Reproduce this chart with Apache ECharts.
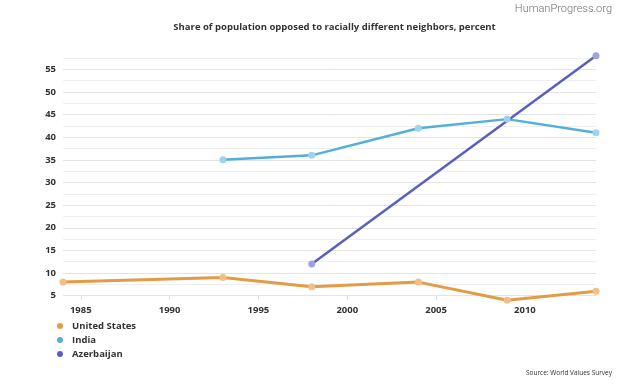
<!DOCTYPE html>
<html>
<head>
<meta charset="utf-8">
<script src="https://cdn.jsdelivr.net/npm/echarts@6/dist/echarts.min.js"></script>
<style>
html,body{margin:0;padding:0;background:#fff;}
#c{width:624px;height:386px;}
</style>
</head>
<body>
<div id="c"></div>
<script>
// Data
var seriesNames = ['United States', 'India', 'Azerbaijan'];
var usYears = [1984, 1993, 1998, 2004, 2009, 2014];
var usValues = [8, 9, 7, 8, 4, 6];
var indiaYears = [1993, 1998, 2004, 2009, 2014];
var indiaValues = [35, 36, 42, 44, 41];
var azYears = [1998, 2014];
var azValues = [12, 58];
var xTickLabels = [1985, 1990, 1995, 2000, 2005, 2010];
var yTickLabels = [5, 10, 15, 20, 25, 30, 35, 40, 45, 50, 55];

function zip(xs, ys) { return xs.map(function (x, i) { return [x, ys[i]]; }); }

var lineColors = ['#e39b45', '#52afd8', '#5a5fbf'];
var dotColors = ['#f0c084', '#9fd3ec', '#9ea2e0'];
var widths = [3, 2.5, 2.5];
var dataSets = [zip(usYears, usValues), zip(indiaYears, indiaValues), zip(azYears, azValues)];

var FONT = '"Open Sans", "DejaVu Sans", sans-serif';
var chart = echarts.init(document.getElementById('c'), null, {renderer: 'canvas'});
chart.setOption({
  animation: false,
  backgroundColor: '#ffffff',
  color: lineColors,
  title: [{
    text: 'Share of population opposed to racially different neighbors, percent',
    left: 329.5, top: 17, textAlign: 'center',
    textStyle: {fontFamily: FONT, fontSize: 9.5, fontWeight: 'bold', color: '#333333'}
  }],
  graphic: [
    {type: 'text', right: 12, top: 4, style: {text: 'HumanProgress.org', font: '300 11px Roboto, sans-serif', fill: '#6f6f6f'}},
    {type: 'text', right: 12, top: 370, style: {text: 'Source: World Values Survey', font: '6.5px "Open Sans", sans-serif', fill: '#333333'}}
  ],
  legend: {
    orient: 'vertical', left: 52, top: 315,
    icon: 'circle', itemWidth: 14, itemHeight: 6, itemGap: 2,
    data: seriesNames.map(function (n, i) { return {name: n, itemStyle: {color: lineColors[i]}}; }),
    textStyle: {fontFamily: FONT, fontSize: 9.5, fontWeight: 'bold', color: '#333333', lineHeight: 12, padding: [0,0,0,0]}
  },
  grid: {left: 63, right: 28, top: 58, bottom: 90.3, containLabel: false},
  xAxis: {
    type: 'value', min: 1984, max: 2014,
    axisLine: {show: false},
    axisTick: {show: true, customValues: xTickLabels, length: 4, lineStyle: {color: '#d8dde8'}},
    axisLabel: {customValues: xTickLabels, margin: 10, fontFamily: FONT, fontSize: 9.5, fontWeight: 'bold', color: '#333333',
      formatter: function (v) { return String(v); }},
    splitLine: {show: false}
  },
  yAxis: {
    type: 'value', min: 5, max: 57.5, interval: 2.5,
    axisLine: {show: false}, axisTick: {show: false},
    axisLabel: {customValues: yTickLabels, margin: 7, fontFamily: FONT, fontSize: 9.5, fontWeight: 'bold', color: '#333333',
      formatter: function (v) { return String(v); }},
    splitLine: {show: true, lineStyle: {color: ['#e4e4e4', '#efefef'], width: 1}}
  },
  series: seriesNames.map(function (n, i) {
    return {
      name: n, type: 'line', data: dataSets[i], clip: false,
      symbol: 'circle', symbolSize: 7, showSymbol: true,
      lineStyle: {color: lineColors[i], width: widths[i]},
      itemStyle: {color: dotColors[i], borderWidth: 0}
    };
  })
});
</script>
</body>
</html>
